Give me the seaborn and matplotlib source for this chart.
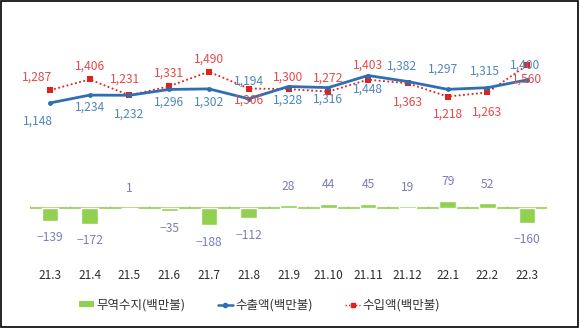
import numpy as np
import pandas as pd
import matplotlib
matplotlib.use("Agg")
import matplotlib.pyplot as plt
from matplotlib.patches import Rectangle, Patch
from matplotlib.lines import Line2D
import seaborn as sns

# ---- data ----
months = ["21.3", "21.4", "21.5", "21.6", "21.7", "21.8", "21.9",
          "21.10", "21.11", "21.12", "22.1", "22.2", "22.3"]
exports = [1148, 1234, 1232, 1296, 1302, 1194, 1328, 1316, 1448, 1382, 1297, 1315, 1400]
imports = [1287, 1406, 1231, 1331, 1490, 1306, 1300, 1272, 1403, 1363, 1218, 1263, 1560]
balance = [-139, -172, 1, -35, -188, -112, 28, 44, 45, 19, 79, 52, -160]
legend_labels = ["무역수지(백만불)", "수출액(백만불)", "수입액(백만불)"]

# label placement offsets in pixels (dx, dy downward)
imp_off = [(-13, -13), (0, -13), (-4, -16), (0, -13), (0, -13), (0, 12), (0, -12),
           (0, -13), (0, -15), (0, 19), (0, 18), (0, 20), (0, 14)]
exp_off = [(-12, 18), (0, 12), (0, 19), (0, 13), (0, 13), (0, -18), (0, 14),
           (0, 12), (0, 14), (-6, -15), (-4, -20), (-2, -17), (-2, -15)]

GREEN = "#92D050"
BLUE = "#2E6FB0"
RED = "#E3211C"
BLUE_TXT = "#4F86BE"
RED_TXT = "#E44A4A"
BAR_TXT = "#7D7DB8"

sns.set_style("white")
plt.rcParams["font.family"] = ["Noto Sans CJK KR", "DejaVu Sans"]

df = pd.DataFrame({"month": months, "pos": np.arange(len(months)),
                   "exports": exports, "imports": imports, "balance": balance})

fig = plt.figure(figsize=(5.8, 3.31), dpi=100)
ax = fig.add_axes([30 / 580, (331 - 255) / 331, 517 / 580, 235 / 331])

sns.barplot(data=df, x="month", y="balance", order=months, color=GREEN,
            saturation=1, width=0.42, ax=ax, zorder=2)
sns.lineplot(data=df, x="pos", y="exports", color=BLUE, lw=2.0, marker="o",
             markersize=3.5, markeredgewidth=0, ax=ax, zorder=4)
sns.lineplot(data=df, x="pos", y="imports", color=RED, lw=1.3, marker="s",
             markersize=4.5, markeredgewidth=0, ax=ax, zorder=3)
ax.lines[-1].set_linestyle((0, (1, 1.4)))

# zero line with boundary ticks
ax.axhline(0, color=GREEN, lw=1.2, zorder=1)
bounds = np.arange(len(months) + 1) - 0.5
ax.vlines(bounds, 0, 26, color=GREEN, lw=0.8, zorder=1)

ax.set_xlim(-0.5, len(months) - 0.5)
ax.set_ylim(-514, 2055)
for s in ax.spines.values():
    s.set_visible(False)
ax.set_yticks([])
ax.set_xlabel("")
ax.set_ylabel("")
ax.set_xticks(np.arange(len(months)))
ax.set_xticklabels(months, fontsize=8.5, color="#2b2b2b")
ax.tick_params(axis="x", length=0, pad=10)

# value labels
for i in range(len(months)):
    dx, dy = imp_off[i]
    ax.annotate(f"{imports[i]:,}", (i, imports[i]), xytext=(dx, -dy),
                textcoords="offset pixels", ha="center", va="center",
                fontsize=8.7, color=RED_TXT, zorder=6)
    dx, dy = exp_off[i]
    ax.annotate(f"{exports[i]:,}", (i, exports[i]), xytext=(dx, -dy),
                textcoords="offset pixels", ha="center", va="center",
                fontsize=8.7, color=BLUE_TXT, zorder=6)
    off = 19 if balance[i] >= 0 else -17
    ax.annotate(f"{balance[i]:,}".replace("-", "\u2212"), (i, balance[i]),
                xytext=(0, off), textcoords="offset pixels", ha="center",
                va="center", fontsize=8.7, color=BAR_TXT, zorder=6)

handles = [
    Patch(facecolor=GREEN, edgecolor="none"),
    Line2D([], [], color=BLUE, lw=1.8, marker="o", markersize=3),
    Line2D([], [], color=RED, lw=1.0, ls=(0, (1, 1.5)), marker="s", markersize=3.5),
]
fig.legend(handles, legend_labels, loc="center", bbox_to_anchor=(259.5 / 580, 1 - 305 / 331),
           ncol=3, frameon=False, fontsize=9, handlelength=1.2, handleheight=0.35,
           handletextpad=0.2, columnspacing=2.6, labelcolor="#333333")

fig.patches.append(Rectangle((0.5 / 580, 4 / 331), 577.5 / 580, 326 / 331,
                             transform=fig.transFigure, fill=False,
                             edgecolor="black", lw=1.2))

fig.savefig("out.png", dpi=100, facecolor="white")
